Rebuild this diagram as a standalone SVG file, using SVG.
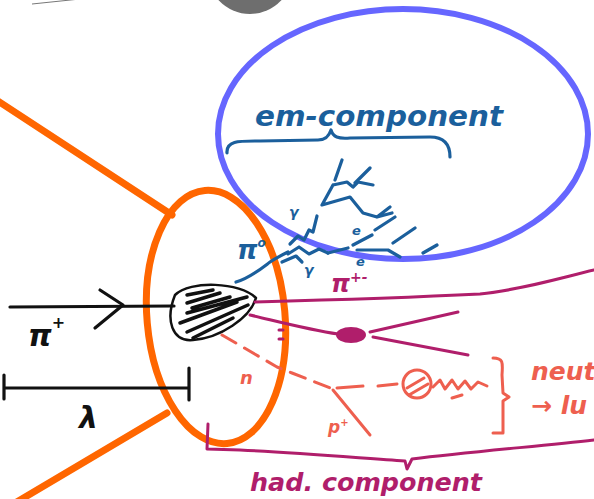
<svg xmlns="http://www.w3.org/2000/svg" width="594" height="499" viewBox="0 0 594 499">
  <style>
    .s { fill: none; stroke-linecap: round; stroke-linejoin: round; }
    .blk { stroke: #111; }
    .em { stroke: #1b5f9c; stroke-width: 3.2; }
    .had { stroke: #b01e6b; stroke-width: 3; }
    .neu { stroke: #ee5f4f; stroke-width: 3; }
    .hand { font-family: "DejaVu Sans", "Liberation Sans", sans-serif; font-style: italic; font-weight: bold; }
  </style>
  <rect width="594" height="499" fill="#ffffff"/>

  <!-- partial grey disc and thin line at the top edge -->
  <g id="top-fragment">
    <ellipse cx="250" cy="-32" rx="44" ry="46" fill="#6e6e6e"/>
    <line x1="32" y1="4" x2="80" y2="-1" stroke="#777" stroke-width="1"/>
  </g>

  <!-- em shower highlight -->
  <g id="em-ellipse">
    <ellipse cx="403" cy="134" rx="185" ry="125" class="s" stroke="#6666ff" stroke-width="6"/>
  </g>

  <!-- orange zoom cone -->
  <g id="zoom-cone">
    <line x1="-2" y1="101" x2="172" y2="215" class="s" stroke="#ff6600" stroke-width="7"/>
    <line x1="167" y1="413" x2="10" y2="506" class="s" stroke="#ff6600" stroke-width="7"/>
    <ellipse cx="216" cy="317" rx="69" ry="127" transform="rotate(-5 216 317)" class="s" stroke="#ff6600" stroke-width="7"/>
  </g>

  <!-- incoming pion and interaction length -->
  <g id="incoming-pion">
    <path class="s blk" stroke-width="3.2" d="M10,307 L174,306"/>
    <path class="s blk" stroke-width="3.2" d="M100,290 L123,305 L95,328"/>
    <text x="28" y="346" class="hand" font-size="30" fill="#111" font-style="normal" font-weight="normal">π<tspan dy="-18" font-size="16" font-weight="bold">+</tspan></text>
  </g>
  <g id="lambda-bar">
    <path class="s blk" stroke-width="3.2" d="M5,388 L189,388 M4,375 L4,399 M189,368 L189,400"/>
    <text x="79" y="428" class="hand" font-size="30" fill="#111" font-style="normal" font-weight="normal">λ</text>
  </g>

  <!-- interaction vertex -->
  <g id="vertex">
    <path class="s blk" stroke-width="2.5" fill="#fff" d="M175,295 C190,280 240,282 256,298 C250,318 220,338 193,340 C172,342 165,320 175,295 Z"/>
    <path class="s blk" stroke-width="3.5" d="M187,295 L213,290 M187,303 L220,293 M192,308 L230,297 M187,313 L247,297 M180,323 L237,302 M187,332 L248,305 M193,338 L233,318"/>
  </g>

  <!-- em component -->
  <g id="em-component">
    <text x="255" y="126" class="hand" font-size="28" fill="#1b5f9c" textLength="248" lengthAdjust="spacingAndGlyphs">em-component</text>
    <path class="s em" d="M227,153 C226,140 240,141 260,141 L318,140 C326,140 329,136 331,130 C333,137 338,139 350,138 L430,137 C445,137 450,145 450,157"/>
  </g>

  <g id="em-shower">
    <path class="s em" d="M236,282 C250,278 262,268 270,262 C276,258 282,255 288,252"/>
    <text x="237" y="259" class="hand" font-size="26" fill="#1b5f9c" font-style="normal">π<tspan dy="-12" font-size="12">o</tspan></text>
    <path class="s em" d="M290,244 L298,236 L304,240 L309,230 L313,232 L317,216"/>
    <path class="s em" d="M288,254 L299,247 L309,254 L319,249 L328,253"/>
    <path class="s em" d="M282,262 L296,256 L302,262"/>
    <text x="289" y="217" class="hand" font-size="14" fill="#1b5f9c">γ</text>
    <text x="304" y="275" class="hand" font-size="14" fill="#1b5f9c">γ</text>
    <path class="s em" d="M342,160 L335,180 M333,185 L347,182 L353,187 L358,182 L373,185 M370,168 L355,183 M333,185 L322,205 L350,197 L363,213 L377,217 L392,213 M390,207 L377,217 M395,217 L375,230 M415,228 L393,243 M372,235 L353,245 M357,250 L388,250 L400,257 M437,245 L423,253 M328,253 L348,248"/>
    <text x="352" y="235" class="hand" font-size="13" fill="#1b5f9c">e</text>
    <text x="356" y="266" class="hand" font-size="13" fill="#1b5f9c">e</text>
  </g>

  <!-- hadronic component -->
  <g id="had-component">
    <text x="331" y="292" class="hand" font-size="24" fill="#b01e6b" font-style="normal">π<tspan dy="-10" font-size="14">+-</tspan></text>
    <path class="s had" d="M255,302 C330,300 420,297 480,294 C520,290 560,278 594,270"/>
    <path class="s had" d="M250,315 C280,322 310,330 338,334"/>
    <ellipse cx="351" cy="335" rx="15" ry="8" fill="#b01e6b"/>
    <path class="s had" d="M370,332 L458,312 M373,337 L468,355"/>
    <path class="s had" stroke-width="2" d="M279,330 L283,330 M279,339 L283,339"/>
    <path class="s had" d="M208,424 L207,449 L240,450 C300,453 360,458 405,461 L407,469 L412,459 C470,452 540,446 594,440"/>
    <text x="250" y="491" class="hand" font-size="24" fill="#b01e6b" textLength="232" lengthAdjust="spacingAndGlyphs">had. component</text>
  </g>

  <!-- neutral component -->
  <g id="neutral-component">
    <path class="s neu" stroke-dasharray="16 10" d="M222,335 L277,367 L292,373 L333,389"/>
    <path class="s neu" d="M337,388 L363,386 M378,386 L397,384"/>
    <circle cx="417" cy="384" r="14" class="s neu"/>
    <path class="s neu" d="M407,388 L424,378 M409,395 L428,384"/>
    <path class="s neu" d="M433,387 L440,380 L445,389 L452,380 L458,389 L465,381 L471,389 L478,382 L487,386"/>
    <path class="s neu" stroke-width="2" d="M452,398 L462,395"/>
    <path class="s neu" d="M333,390 L370,435"/>
    <text x="240" y="384" class="hand" font-size="18" fill="#ee5f4f">n</text>
    <text x="328" y="433" class="hand" font-size="17" fill="#ee5f4f">p<tspan dy="-7" font-size="10">+</tspan></text>
    <path class="s neu" d="M493,358 C503,358 503,362 502,375 L503,393 L509,397 L503,401 L503,420 L503,433 L493,433"/>
    <text x="531" y="380" class="hand" font-size="25" fill="#ee5f4f">neut</text>
    <text x="531" y="414" class="hand" font-size="25" fill="#ee5f4f">→ lu</text>
  </g>
</svg>
